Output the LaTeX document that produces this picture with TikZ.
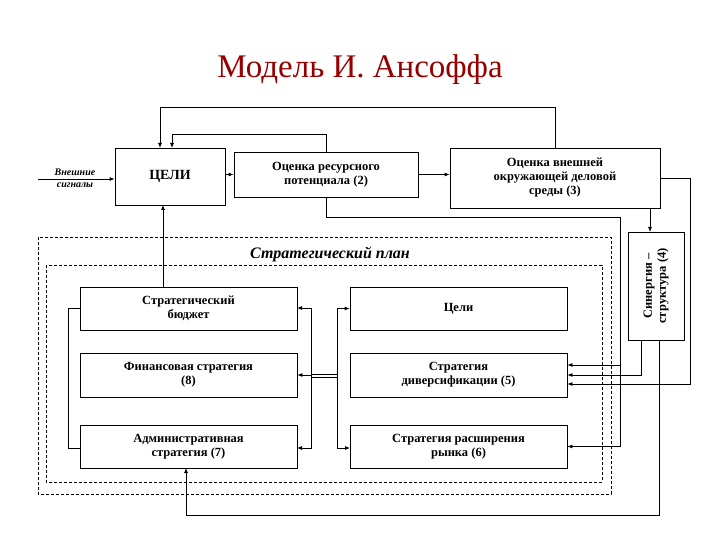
\documentclass[tikz,border=0pt]{standalone}
\usepackage{fontspec}
\setmainfont{Liberation Serif}
\usetikzlibrary{arrows.meta}
\begin{document}
\begin{tikzpicture}[x=1pt,y=-1pt,
  box/.style={draw,thick,minimum width=#1,inner sep=1pt,align=center,font=\fontsize{12.5}{14}\selectfont\bfseries},
  ln/.style={thick},
  ar/.style={thick,-{Latex[length=5pt,width=4pt]}}]
\useasboundingbox (0,0) rectangle (720,540);
\node[font=\fontsize{33}{36}\selectfont, text={rgb,255:red,150;green,0;blue,0}] (title) at (360,70) {Модель И. Ансоффа};
\draw[thick,densely dashed] (38,237) rectangle (611,494);
\draw[thick,densely dashed] (46,265) rectangle (602,482);
\node[font=\fontsize{16}{18}\selectfont\itshape\bfseries] (plan) at (330,254) {Стратегический план};
\node[box=110pt,minimum height=57pt,font=\fontsize{14}{16}\selectfont\bfseries] (goals) at (170,176.5) {ЦЕЛИ};
\node[box=184pt,minimum height=45pt] (res) at (326,174.5) {Оценка ресурсного\\потенциала (2)};
\node[box=210pt,minimum height=60pt] (env) at (555,178) {Оценка внешней\\окружающей деловой\\среды (3)};
\node[box=108pt,minimum height=56pt,rotate=90] (syn) at (656,286) {Синергия –\\структура (4)};
\node[font=\fontsize{10}{12}\selectfont\itshape\bfseries,align=center] (sig) at (75,178) {Внешние\\сигналы};
\node[box=217pt,minimum height=43pt] (bud) at (188.5,308.5) {Стратегический\\бюджет};
\node[box=217pt,minimum height=44pt] (fin) at (188.5,375) {Финансовая стратегия\\(8)};
\node[box=217pt,minimum height=43pt] (adm) at (188.5,446.5) {Административная\\стратегия (7)};
\node[box=217pt,minimum height=43pt] (cel) at (458.5,308.5) {Цели};
\node[box=217pt,minimum height=44pt] (div) at (458.5,375) {Стратегия\\диверсификации (5)};
\node[box=217pt,minimum height=43pt] (mkt) at (458.5,446.5) {Стратегия расширения\\рынка (6)};
\coordinate (s1) at (38,179);
\draw[ar] (s1) -- (goals.west|-s1);
\draw[ar] (goals.east|-res) -- (res.west);
\draw[ar] (res.east) -- (env.west|-res);
\draw[ar] (res.north) -- ++(0,-17) -| (172,148);
\draw[ar] (env.north) -- ++(0,-40) -| (160,148);
\draw[ar] (163,287) -- (163,205);
\draw[ar] (650,208) -- (650,232);
\draw[ar] (res.south) |- (620,217) |- (div.east|-0,365);
\draw[ar] (620,360) |- (mkt.east);
\draw[ar] (env.east) -| (690,384) -- (div.east|-0,384);
\draw[ar] (641,340) |- (div.east);
\draw[ar] (659,340) |- (186,515) -- (186,468);
\draw[ln] (bud.west) -| (68,448) -- (80,448);
\draw[ar] (311,308) -- (297,308);
\draw[ar] (311,308) |- (fin.east);
\draw[ar] (311,375) |- (297,448);
\draw[ln] (311,308) -- (311,448);
\draw[ln] (311,374) -- (337,374);
\draw[ln] (311,377) -- (337,377);
\draw[ar] (337,308) |- (cel.west);
\draw[ar] (337,308) |- (350,448);
\end{tikzpicture}
\end{document}
